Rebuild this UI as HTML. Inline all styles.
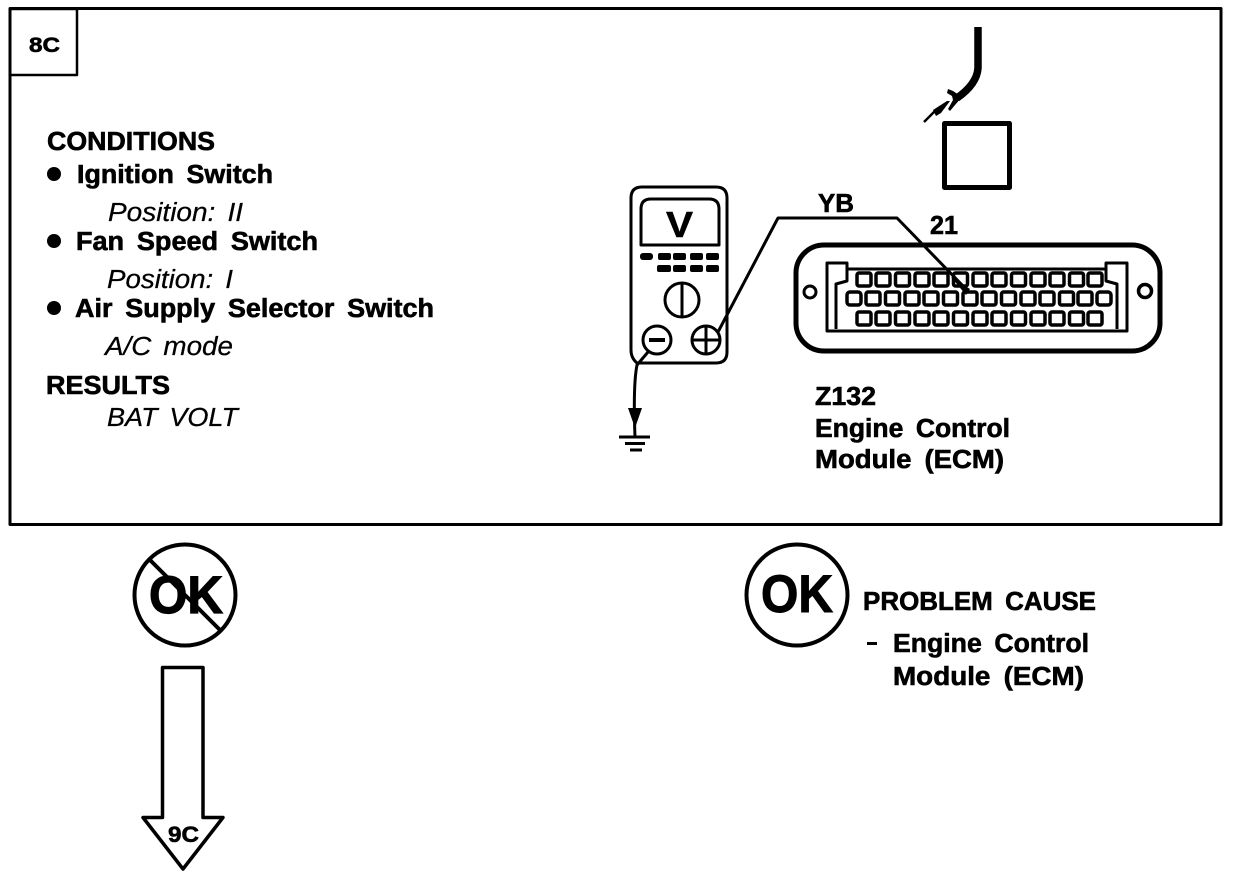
<!DOCTYPE html>
<html><head><meta charset="utf-8"><style>
html,body{margin:0;padding:0;background:#fff;width:1248px;height:878px;overflow:hidden}
svg{display:block}
text{font-family:"Liberation Sans",sans-serif;fill:#000}
.b{font-weight:700;stroke:#000;stroke-width:.6;word-spacing:5px}
.i{font-style:italic;stroke:#000;stroke-width:.25;word-spacing:4px}
.l{fill:none;stroke:#000;stroke-linejoin:round}
</style></head><body>
<svg width="1248" height="878" viewBox="0 0 1248 878" xmlns="http://www.w3.org/2000/svg">
<rect width="1248" height="878" fill="#fff"/>
<rect class="l" x="10" y="8.5" width="1211" height="516" stroke-width="3"/>
<rect class="l" x="10" y="9" width="67" height="66" stroke-width="2.5"/>
<text class="b" x="29" y="52" font-size="21" textLength="31" lengthAdjust="spacingAndGlyphs">8C</text>
<g font-size="25.5">
<text class="b" x="47" y="150" textLength="168" lengthAdjust="spacingAndGlyphs">CONDITIONS</text>
<text class="b" x="77" y="183" textLength="196" lengthAdjust="spacingAndGlyphs">Ignition Switch</text>
<text class="i" x="108" y="221" textLength="135" lengthAdjust="spacingAndGlyphs">Position: II</text>
<text class="b" x="76" y="250" textLength="242" lengthAdjust="spacingAndGlyphs">Fan Speed Switch</text>
<text class="i" x="107" y="288" textLength="126" lengthAdjust="spacingAndGlyphs">Position: I</text>
<text class="b" x="75" y="317" textLength="359" lengthAdjust="spacingAndGlyphs">Air Supply Selector Switch</text>
<text class="i" x="105" y="355" textLength="128" lengthAdjust="spacingAndGlyphs">A/C mode</text>
<text class="b" x="46" y="394" textLength="124" lengthAdjust="spacingAndGlyphs">RESULTS</text>
<text class="i" x="107" y="426" textLength="131" lengthAdjust="spacingAndGlyphs">BAT VOLT</text>
<text class="b" x="815" y="405" textLength="61" lengthAdjust="spacingAndGlyphs">Z132</text>
<text class="b" x="815" y="437" textLength="195" lengthAdjust="spacingAndGlyphs">Engine Control</text>
<text class="b" x="815" y="468" textLength="189" lengthAdjust="spacingAndGlyphs">Module (ECM)</text>
<text class="b" x="818" y="212" textLength="36" lengthAdjust="spacingAndGlyphs">YB</text>
<text class="b" x="930" y="234" textLength="28" lengthAdjust="spacingAndGlyphs">21</text>
<text class="b" x="863" y="610" textLength="233" lengthAdjust="spacingAndGlyphs">PROBLEM CAUSE</text>
<text class="b" x="893" y="652" textLength="196" lengthAdjust="spacingAndGlyphs">Engine Control</text>
<text class="b" x="893" y="685" textLength="191" lengthAdjust="spacingAndGlyphs">Module (ECM)</text>
</g>
<circle cx="54" cy="174" r="7"/><circle cx="54" cy="241" r="7"/><circle cx="54" cy="308" r="7"/>
<rect x="867" y="642" width="10" height="3"/>

<!-- top wire and square -->
<path class="l" d="M978 27V68Q977 84 957 98" stroke-width="7.500"/>
<path d="M948 89L953 91L962 97L955 105L950 111L948 109L953 100L952 96L947 93Z"/>
<path class="l" d="M924 122L935 111" stroke-width="2.500"/>
<path d="M933 110L947 101L950 101L941 113L936 116Z"/>
<rect class="l" x="944.500" y="123.500" width="65" height="64" stroke-width="5"/>

<!-- meter -->
<path class="l" d="M631 350V198Q631 187 642 187H716Q727 187 727 198V352Q727 363 716 363H637Q631 358 631 350Z" stroke-width="3"/>
<path class="l" d="M641 245V209Q641 199 651 199H709Q719 199 719 209V245Z" stroke-width="3"/>
<text x="666" y="237" font-size="36" font-weight="700" stroke="#000" stroke-width=".5" textLength="27" lengthAdjust="spacingAndGlyphs">V</text>
<g>
<rect x="640" y="253" width="13" height="7" rx="3"/><rect x="658" y="253" width="13" height="7" rx="2"/><rect x="673" y="253" width="13" height="7" rx="2"/><rect x="690" y="253" width="13" height="7" rx="2"/><rect x="706" y="253" width="13" height="7" rx="2"/>
<rect x="657" y="265" width="14" height="7" rx="2"/><rect x="673" y="265" width="13" height="7" rx="2"/><rect x="690" y="265" width="13" height="7" rx="2"/><rect x="706" y="265" width="13" height="7" rx="2"/>
</g>
<circle class="l" cx="682" cy="300" r="17" stroke-width="3"/><path class="l" d="M682 284V316" stroke-width="3"/>
<circle class="l" cx="657" cy="340" r="14" stroke-width="3"/><path class="l" d="M649 340H665" stroke-width="4"/>
<circle class="l" cx="706" cy="340" r="14" stroke-width="3"/><path class="l" d="M692 340H720M706 326V354" stroke-width="3"/>
<path class="l" d="M718 332L778 218H897L965 288" stroke-width="3"/>
<path d="M951 277L970 289L966 295Z"/>
<path class="l" d="M648 352L637 365Q633 385 635 437" stroke-width="3"/>
<path d="M628 408H642L635 428Z"/>
<path class="l" d="M619 437H650" stroke-width="3"/><path class="l" d="M625 443.500H645" stroke-width="3"/><path class="l" d="M630 450H642" stroke-width="3"/>

<!-- ECM connector -->
<rect class="l" x="796" y="245" width="364" height="106" rx="28" stroke-width="5"/>
<circle class="l" cx="810" cy="292" r="6" stroke-width="3"/><circle class="l" cx="1145" cy="291" r="6.500" stroke-width="3.500"/>
<path class="l" d="M827 263H847V269H1106V263H1127V331H827Z" stroke-width="3"/>
<path class="l" d="M847 269V281L836 284V329M1106 269V281L1117 284V329" stroke-width="3"/>
<g class="l" stroke-width="3.500" fill="none">
<rect x="857" y="273" width="14" height="13" rx="2"/><rect x="876" y="273" width="14" height="13" rx="2"/><rect x="895.500" y="273" width="14" height="13" rx="2"/><rect x="915" y="273" width="14" height="13" rx="2"/><rect x="934" y="273" width="14" height="13" rx="2"/><rect x="953.500" y="273" width="14" height="13" rx="2"/><rect x="973" y="273" width="14" height="13" rx="2"/><rect x="992" y="273" width="14" height="13" rx="2"/><rect x="1011.500" y="273" width="14" height="13" rx="2"/><rect x="1031" y="273" width="14" height="13" rx="2"/><rect x="1050" y="273" width="14" height="13" rx="2"/><rect x="1069.500" y="273" width="14" height="13" rx="2"/><rect x="1088" y="273" width="14" height="13" rx="2"/>
<rect x="847" y="292" width="14" height="13" rx="3"/><rect x="866" y="292" width="14" height="13" rx="2"/><rect x="885.500" y="292" width="14" height="13" rx="2"/><rect x="905" y="292" width="14" height="13" rx="2"/><rect x="924" y="292" width="14" height="13" rx="2"/><rect x="943.500" y="292" width="14" height="13" rx="2"/><rect x="963" y="292" width="14" height="13" rx="2"/><rect x="982" y="292" width="14" height="13" rx="2"/><rect x="1001.500" y="292" width="14" height="13" rx="2"/><rect x="1021" y="292" width="14" height="13" rx="2"/><rect x="1040" y="292" width="14" height="13" rx="2"/><rect x="1059.500" y="292" width="14" height="13" rx="2"/><rect x="1078" y="292" width="14" height="13" rx="2"/><rect x="1097" y="292" width="14" height="13" rx="3"/>
<rect x="857" y="312" width="14" height="13" rx="2"/><rect x="876" y="312" width="14" height="13" rx="2"/><rect x="895.500" y="312" width="14" height="13" rx="2"/><rect x="915" y="312" width="14" height="13" rx="2"/><rect x="934" y="312" width="14" height="13" rx="2"/><rect x="953.500" y="312" width="14" height="13" rx="2"/><rect x="973" y="312" width="14" height="13" rx="2"/><rect x="992" y="312" width="14" height="13" rx="2"/><rect x="1011.500" y="312" width="14" height="13" rx="2"/><rect x="1031" y="312" width="14" height="13" rx="2"/><rect x="1050" y="312" width="14" height="13" rx="2"/><rect x="1069.500" y="312" width="14" height="13" rx="2"/><rect x="1088" y="312" width="14" height="13" rx="2"/>
</g>

<!-- NOT OK circle -->
<circle class="l" cx="185" cy="595" r="50.500" stroke-width="4"/>
<text x="149" y="613" font-size="53" font-weight="700" stroke="#000" stroke-width="1.200" textLength="74" lengthAdjust="spacingAndGlyphs">OK</text>
<path class="l" d="M150 560L221 631" stroke-width="4"/>

<!-- arrow -->
<path class="l" d="M162.500 667.500H203V817.500H223L183 869L143 817.500H162.500Z" stroke-width="3.500"/>
<text class="b" x="168" y="842" font-size="22" textLength="31" lengthAdjust="spacingAndGlyphs">9C</text>

<!-- OK circle -->
<circle class="l" cx="797" cy="595" r="50.500" stroke-width="4"/>
<text x="761" y="612" font-size="53" font-weight="700" stroke="#000" stroke-width="1" textLength="72" lengthAdjust="spacingAndGlyphs">OK</text>
</svg>
</body></html>
